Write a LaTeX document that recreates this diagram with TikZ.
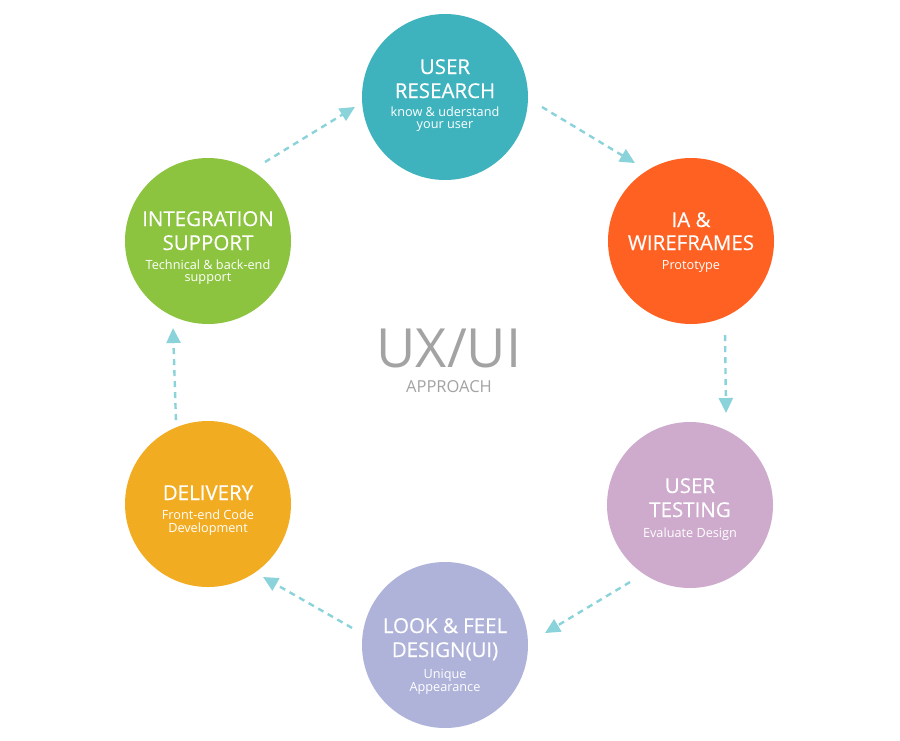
\documentclass[tikz,border=0pt]{standalone}
\usepackage{fontspec}
\setmainfont{Open Sans}
\newfontfamily\titlefont{Open Sans}[FakeBold=0.35]
\usetikzlibrary{calc,arrows.meta}
\definecolor{cteal}{HTML}{3EB3BE}
\definecolor{corange}{HTML}{FE6121}
\definecolor{clilac}{HTML}{CEABCD}
\definecolor{clav}{HTML}{AFB3D9}
\definecolor{cyellow}{HTML}{F2AC21}
\definecolor{cgreen}{HTML}{8CC43F}
\definecolor{carrow}{HTML}{8AD3DA}
\definecolor{cgraytxt}{HTML}{A3A3A3}
\tikzset{
  bubble/.style={circle, minimum size=166pt, inner sep=0pt, draw=none},
  ttl/.style={anchor=base, text=white, inner sep=0pt, font=\titlefont\fontsize{20.5}{24}\selectfont},
  sub/.style={anchor=base, text=white, inner sep=0pt, font=\fontsize{12.7}{14}\selectfont},
  flow/.style={draw=carrow, line width=2.4pt, dash pattern=on 6pt off 5pt,
    -{Triangle[length=15pt,width=14pt,fill=carrow]}},
}
\begin{document}
\begin{tikzpicture}[x=1pt,y=-1pt]
\useasboundingbox[fill=white] (0,0) rectangle (900,740);

% bubbles
\node[bubble, fill=cteal]   (ur)  at (445,97)  {};
\node[bubble, fill=corange] (ia)  at (691,241) {};
\node[bubble, fill=clilac]  (ut)  at (690,505) {};
\node[bubble, fill=clav]    (lf)  at (445,645) {};
\node[bubble, fill=cyellow] (del) at (208,504) {};
\node[bubble, fill=cgreen]  (is)  at (208,241) {};

% texts
\node[ttl] (ur1) at ($(ur)+(0,-23)$) {USER};
\node[ttl] (ur2) at ($(ur)+(0,1)$) {RESEARCH};
\node[sub] (ur3) at ($(ur)+(0,19)$) {know \& uderstand};
\node[sub] (ur4) at ($(ur)+(0,31)$) {your user};

\node[ttl] (ia1) at ($(ia)+(0,-14)$) {IA \&};
\node[ttl] (ia2) at ($(ia)+(0,9)$) {WIREFRAMES};
\node[sub] (ia3) at ($(ia)+(0,28)$) {Prototype};

\node[ttl] (ut1) at ($(ut)+(0,-12)$) {USER};
\node[ttl] (ut2) at ($(ut)+(0,12)$) {TESTING};
\node[sub] (ut3) at ($(ut)+(0,32)$) {Evaluate Design};

\node[ttl] (lf1) at ($(lf)+(0,-12)$) {LOOK \& FEEL};
\node[ttl] (lf2) at ($(lf)+(0,12)$) {DESIGN(UI)};
\node[sub] (lf3) at ($(lf)+(0,33)$) {Unique};
\node[sub] (lf4) at ($(lf)+(0,46)$) {Appearance};

\node[ttl] (del1) at ($(del)+(0,-4)$) {DELIVERY};
\node[sub] (del2) at ($(del)+(0,15)$) {Front-end Code};
\node[sub] (del3) at ($(del)+(0,28)$) {Development};

\node[ttl] (is1) at ($(is)+(0,-15)$) {INTEGRATION};
\node[ttl] (is2) at ($(is)+(0,9)$) {SUPPORT};
\node[sub] (is3) at ($(is)+(0,28)$) {Technical \& back-end};
\node[sub] (is4) at ($(is)+(0,40)$) {support};

% centre title
\node[anchor=base, inner sep=0pt, text=cgraytxt, font=\fontsize{54}{60}\selectfont] (ux) at (449,367) {UX/UI};
\node[anchor=base, inner sep=0pt, text=cgraytxt, font=\fontsize{16.5}{18}\selectfont] (ap) at (449,392) {APPROACH};

% connectors
\draw[flow] ($(ur)+(5.9:97.5)$)   -- ($(ia)+(234.3:96)$);
\draw[flow] ($(ia)+(70.1:100)$)   -- ($(ut)+(-68.6:98.8)$);
\draw[flow] ($(ut)+(127.9:97.6)$) -- ($(lf)+(-6.8:100.7)$);
\draw[flow] ($(lf)+(190.4:94.5)$) -- ($(del)+(53:91.4)$);
\draw[flow] ($(del)+(249.1:89.9)$) -- ($(is)+(111.9:93.8)$);
\draw[flow] ($(is)+(-54.2:97.4)$) -- ($(ur)+(173.7:90.6)$);
\end{tikzpicture}
\end{document}
